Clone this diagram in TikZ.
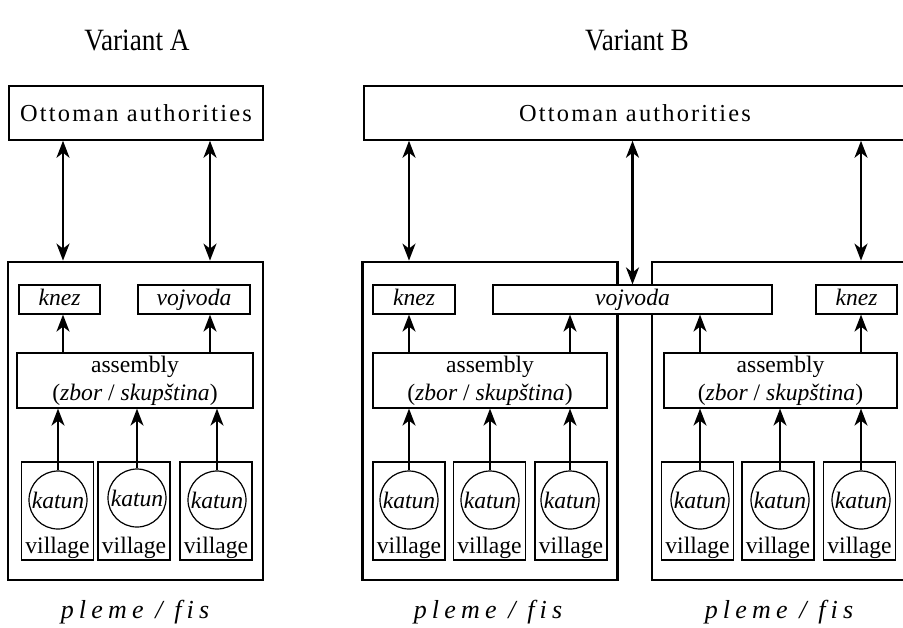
\documentclass[tikz,border=0pt]{standalone}
\usepackage{fontspec}
\setmainfont{Liberation Serif}
\newfontfamily\headfont[FakeStretch=0.88]{Liberation Serif}
\newfontfamily\authfont[LetterSpace=9]{Liberation Serif}
\newfontfamily\plemefont[LetterSpace=20]{Liberation Serif}
\usetikzlibrary{arrows.meta, positioning}

\begin{document}
\begin{tikzpicture}[
  x=0.5pt, y=-0.5pt,
  every node/.style={font=\fontsize{11.8}{14}\selectfont},
  heading/.style={font=\headfont\fontsize{15.5}{18}\selectfont},
  authbox/.style={draw, line width=0.75pt, minimum height=27pt, inner sep=0pt, font=\authfont\fontsize{12.2}{14}\selectfont},
  tribe/.style={draw, line width=1.4pt, minimum width=127.5pt, minimum height=159pt, inner sep=0pt},
  office/.style={draw, line width=0.6pt, fill=white, minimum height=14.5pt, inner sep=0pt, text height=8.5pt, text depth=2.2pt, font=\itshape\fontsize{11.8}{14}\selectfont},
  council/.style={draw, line width=0.6pt, minimum height=27.5pt, inner sep=0pt, align=center},
  hamlet/.style={draw, line width=0.6pt, minimum width=36pt, minimum height=49pt, inner sep=0pt},
  katun/.style={circle, draw, line width=0.6pt, minimum size=29pt, inner sep=0pt, font=\itshape\fontsize{11.8}{14}\selectfont},
  plemelbl/.style={font=\plemefont\itshape\fontsize{13}{15}\selectfont},
  up/.style={-{Stealth[length=8.5pt, width=6.5pt, inset=2.5pt]}, line width=0.9pt},
  twoway/.style={{Stealth[length=8.5pt, width=6.5pt, inset=2.5pt]}-{Stealth[length=8.5pt, width=6.5pt, inset=2.5pt]}, line width=1.1pt}
]
  \useasboundingbox (0,0) rectangle (903,627);

  % Variant A
  \node[heading] (headA) at (137,40) {Variant A};
  \node[authbox, minimum width=127pt] (ottA) at (136,113) {Ottoman authorities};
  \node[tribe] (tribeA) at (135.5,421) {};
  \node[office, minimum width=40.5pt] (knezA) at (59.5,299.5) {knez};
  \node[office, minimum width=56pt] (vojA) at (194,299.5) {vojvoda};
  \node[council, minimum width=118pt] (asmA) at (135,380.5) {assembly\\(\textit{zbor} / \textit{skupština})};
  \coordinate (colA1) at (63,0);
  \coordinate (colA2) at (210,0);

  \node[hamlet] (hamA1) at (57.5,511) {};
  \node[hamlet] (hamA2) at (134,511) {};
  \node[hamlet] (hamA3) at (216,511) {};
  \node[katun] (katA1) at (58,500) {katun};
  \node[katun] (katA2) at (137,498) {katun};
  \node[katun] (katA3) at (217,500) {katun};
  \node[anchor=base] (vilA1) at ([yshift=3.5pt]hamA1.south) {village};
  \node[anchor=base] (vilA2) at ([yshift=3.5pt]hamA2.south) {village};
  \node[anchor=base] (vilA3) at ([yshift=3.5pt]hamA3.south) {village};
  \node[plemelbl] (plemeA) at (135,612) {pleme / fis};

  \draw[twoway] (ottA.south -| colA1) -- (tribeA.north -| colA1);
  \draw[twoway] (ottA.south -| colA2) -- (tribeA.north -| colA2);
  \draw[up] (asmA.north -| colA1) -- (knezA.south -| colA1);
  \draw[up] (asmA.north -| colA2) -- (vojA.south -| colA2);
  \draw[up] (katA1.north) -- (asmA.south -| katA1);
  \draw[up] (katA2.north) -- (asmA.south -| katA2);
  \draw[up] (katA3.north) -- (asmA.south -| katA3);

  % Variant B
  \node[heading] (headB) at (637,40) {Variant B};
  \node[authbox, minimum width=271pt] (ottB) at (635,113) {Ottoman authorities};
  \node[tribe] (tribeB1) at (490,421) {};
  \node[tribe] (tribeB2) at (779.5,421) {};
  \node[office, minimum width=41pt] (knezB1) at (414,299.5) {knez};
  \node[office, minimum width=139.5pt] (vojB) at (632.5,299.5) {vojvoda};
  \node[office, minimum width=40.5pt] (knezB2) at (856.5,299.5) {knez};
  \node[council, minimum width=117pt] (asmB1) at (490,380.5) {assembly\\(\textit{zbor} / \textit{skupština})};
  \node[council, minimum width=116.5pt] (asmB2) at (780.5,380.5) {assembly\\(\textit{zbor} / \textit{skupština})};

  \node[hamlet] (hamB1) at (409,511) {};
  \node[hamlet] (hamB2) at (489.5,511) {};
  \node[hamlet] (hamB3) at (571,511) {};
  \node[hamlet] (hamB4) at (697.5,511) {};
  \node[hamlet] (hamB5) at (778,511) {};
  \node[hamlet] (hamB6) at (859.5,511) {};
  \node[katun] (katB1) at (409,500) {katun};
  \node[katun] (katB2) at (490,500) {katun};
  \node[katun] (katB3) at (570,500) {katun};
  \node[katun] (katB4) at (700,500) {katun};
  \node[katun] (katB5) at (780,500) {katun};
  \node[katun] (katB6) at (861,500) {katun};
  \node[anchor=base] (vilB1) at ([yshift=3.5pt]hamB1.south) {village};
  \node[anchor=base] (vilB2) at ([yshift=3.5pt]hamB2.south) {village};
  \node[anchor=base] (vilB3) at ([yshift=3.5pt]hamB3.south) {village};
  \node[anchor=base] (vilB4) at ([yshift=3.5pt]hamB4.south) {village};
  \node[anchor=base] (vilB5) at ([yshift=3.5pt]hamB5.south) {village};
  \node[anchor=base] (vilB6) at ([yshift=3.5pt]hamB6.south) {village};
  \node[plemelbl] (plemeB1) at (488,612) {pleme / fis};
  \node[plemelbl] (plemeB2) at (779,612) {pleme / fis};

  \draw[twoway] (ottB.south -| katB1) -- (tribeB1.north -| katB1);
  \draw[twoway] (ottB.south -| vojB) -- (vojB.north);
  \draw[twoway] (ottB.south -| katB6) -- (tribeB2.north -| katB6);
  \draw[up] (asmB1.north -| katB1) -- (knezB1.south -| katB1);
  \draw[up] (asmB1.north -| katB3) -- (vojB.south -| katB3);
  \draw[up] (asmB2.north -| katB4) -- (vojB.south -| katB4);
  \draw[up] (asmB2.north -| katB6) -- (knezB2.south -| katB6);
  \draw[up] (katB1.north) -- (asmB1.south -| katB1);
  \draw[up] (katB2.north) -- (asmB1.south -| katB2);
  \draw[up] (katB3.north) -- (asmB1.south -| katB3);
  \draw[up] (katB4.north) -- (asmB2.south -| katB4);
  \draw[up] (katB5.north) -- (asmB2.south -| katB5);
  \draw[up] (katB6.north) -- (asmB2.south -| katB6);
\end{tikzpicture}
\end{document}
